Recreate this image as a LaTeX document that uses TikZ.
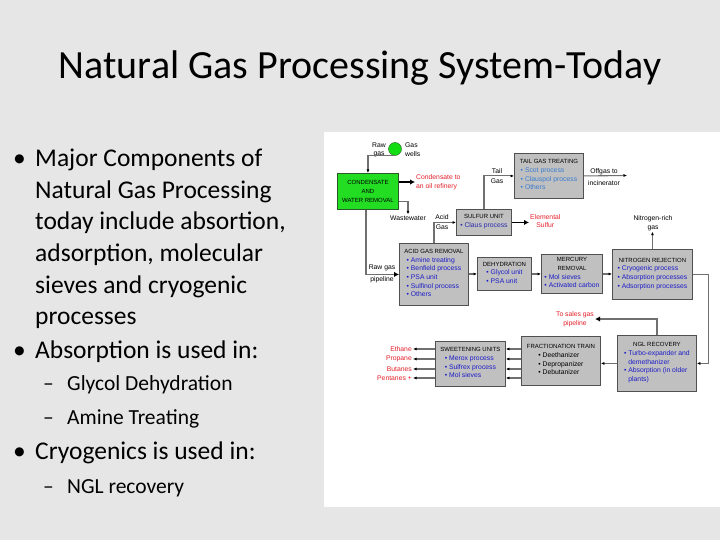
\documentclass[tikz,border=0pt]{standalone}
\usepackage{fontspec}
\setmainfont{Carlito}
\newfontfamily\chartfont{Liberation Sans}
\usetikzlibrary{arrows.meta,positioning}

\definecolor{slidebg}{HTML}{E6E6E6}
\definecolor{boxfill}{HTML}{C0C0C0}
\definecolor{boxline}{HTML}{505050}
\definecolor{flowgray}{HTML}{707070}
\definecolor{condgreen}{HTML}{22DD22}
\definecolor{conddark}{HTML}{2A5A2A}
\definecolor{wellgreen}{HTML}{11DD11}
\definecolor{itemblue}{HTML}{1C1CC8}
\definecolor{clausblue}{HTML}{2A2AB0}
\definecolor{scotblue}{HTML}{3A7CD0}
\definecolor{redtxt}{HTML}{E4202A}

\newcommand{\unittitle}[1]{{\fontsize{6}{8.7}\selectfont #1}}
\newcommand{\unititems}[2][itemblue]{\textcolor{#1}{\begin{tabular}[t]{@{}l@{}}#2\end{tabular}}}

\tikzset{
  unit/.style={draw=boxline, fill=boxfill, line width=0.9pt, anchor=north west,
    inner sep=1pt, align=center, font=\chartfont\fontsize{6.8}{8.7}\selectfont},
  flow/.style={draw=flowgray, line width=1.1pt, -{Latex[color=black,length=3.5pt,width=3pt]}},
  feed/.style={draw=flowgray, line width=1.1pt, -{Latex[color=black,length=5pt,width=5.5pt]}},
  outflow/.style={draw=black, line width=1.6pt, -{Latex[length=5pt,width=5.5pt]}},
  lbl/.style={font=\chartfont\fontsize{6.8}{8.7}\selectfont, inner sep=1pt, align=center},
  product/.style={lbl, text=redtxt},
  slidetext/.style={anchor=base west, align=left, inner sep=0pt, font=\fontsize{25.5}{31.6}\selectfont},
  subtext/.style={anchor=base west, inner sep=0pt, font=\fontsize{21.5}{26}\selectfont},
}

\begin{document}
\begin{tikzpicture}[x=1pt,y=-1pt]
  \useasboundingbox (0,0) rectangle (720,540);
  \fill[slidebg] (0,0) rectangle (720,540);
  \fill[white] (324,132) rectangle (720,507);

  % slide text (base of a multi-line node is its last line)
  \node[anchor=base, inner sep=0pt, font=\fontsize{40}{48}\selectfont] (title) at (360,79) {Natural Gas Processing System-Today};
  \node[slidetext] (dot1) at (13,166.7) {•};
  \node[slidetext] (item1) at (35,324.7) {Major Components of\\Natural Gas Processing\\today include absortion,\\adsorption, molecular\\sieves and cryogenic\\processes};
  \node[slidetext] (dot2) at (13,358) {•};
  \node[slidetext] (item2) at (35,358) {Absorption is used in:};
  \node[subtext] (dash1) at (43,390.7) {–};
  \node[subtext] (sub1) at (67,390.7) {Glycol Dehydration};
  \node[subtext] (dash2) at (43,424) {–};
  \node[subtext] (sub2) at (67,424) {Amine Treating};
  \node[slidetext] (dot3) at (13,459) {•};
  \node[slidetext] (item3) at (35,459) {Cryogenics is used in:};
  \node[subtext] (dash3) at (43,493) {–};
  \node[subtext] (sub3) at (67,493) {NGL recovery};

  % process units
  \node[circle, draw=conddark, fill=wellgreen, minimum size=13pt, inner sep=0pt] (wells) at (395,149) {};
  \node[unit, fill=condgreen, draw=conddark, minimum width=61pt, minimum height=36pt] (cond) at (337,173) {\unittitle{CONDENSATE}\\\unittitle{AND}\\\unittitle{WATER REMOVAL}};
  \node[unit, minimum width=55pt, minimum height=26pt] (sulfur) at (456,209) {\unittitle{SULFUR UNIT}\\\unititems[clausblue]{• Claus process}};
  \node[unit, minimum width=69pt, minimum height=45pt] (tail) at (514,153) {\unittitle{TAIL GAS TREATING}\\\unititems[scotblue]{• Scot process\\• Clauspol process\\• Others}};
  \node[unit, minimum width=69pt, minimum height=62pt] (acid) at (399,243) {\unittitle{ACID GAS REMOVAL}\\\unititems{• Amine treating\\• Benfield process\\• PSA unit\\• Sulfinol process\\• Others}};
  \node[unit, minimum width=54pt, minimum height=33pt] (dehy) at (477,257) {\unittitle{DEHYDRATION}\\\unititems{• Glycol unit\\• PSA unit}};
  \node[unit, minimum width=61pt, minimum height=39pt] (merc) at (541,254) {\unittitle{MERCURY}\\\unittitle{REMOVAL}\\\unititems{• Mol sieves\\• Activated carbon}};
  \node[unit, minimum width=80pt, minimum height=50pt] (nitro) at (612,249) {\unittitle{NITROGEN REJECTION}\\\unititems{• Cryogenic process\\• Absorption processes\\• Adsorption processes}};
  \node[unit, minimum width=79pt, minimum height=56pt] (ngl) at (617,335) {\unittitle{NGL RECOVERY}\\\unititems{• Turbo-expander and\\\hphantom{• }demethanizer\\• Absorption (in older\\\hphantom{• }plants)}};
  \node[unit, minimum width=79pt, minimum height=49pt] (frac) at (521,336) {\unittitle{FRACTIONATION TRAIN}\\\unititems[black]{• Deethanizer\\• Depropanizer\\• Debutanizer}};
  \node[unit, minimum width=70pt, minimum height=45pt] (sweet) at (435,341) {\unittitle{SWEETENING UNITS}\\\unititems{• Merox process\\• Sulfrex process\\• Mol sieves}};

  % stream labels
  \node[lbl] (rawgas) at (379,150) {Raw\\gas};
  \node[lbl, anchor=west, align=left] (wellname) at (404,150) {Gas\\wells};
  \node[product, anchor=west, align=left] (refinery) at (415,182) {Condensate to\\an oil refinery};
  \node[lbl] (waste) at (408,218) {Wastewater};
  \node[lbl] (pipename) at (382,274) {Raw gas\\[3.5pt]pipeline};
  \node[lbl] (acidgas) at (442,222) {Acid\\[1.3pt]Gas};
  \node[lbl] (tailgas) at (497,176) {Tail\\[2pt]Gas};
  \node[lbl] (offgas) at (604,177) {Offgas to\\[3pt]incinerator};
  \coordinate (incin) at (627,175.5);
  \node[product, anchor=west] (elemsulf) at (529,221) {Elemental\\Sulfur};
  \node[lbl] (n2gas) at (653,223) {Nitrogen-rich\\gas};
  \node[product] (sales) at (575,319) {To sales gas\\pipeline};

  % streams
  \draw[flow] (wells.south) -| (cond.north);
  \draw[outflow] (cond.east |- refinery.west) -- (refinery.west);
  \draw[flow] ([yshift=-10pt]cond.east) -| (waste.north);
  \draw[feed] ([xshift=-2pt]cond.south) |- (acid.west);
  \draw[flow] (acid.north) |- (sulfur.west);
  \draw[flow] (sulfur.north) |- (tail.west);
  \draw[flow] (tail.east) -- (incin);
  \draw[outflow] (sulfur.east) -- (sulfur.east -| elemsulf.west);
  \draw[flow] (acid.east |- dehy.west) -- (dehy.west);
  \draw[flow] (dehy.east) -- (dehy.east -| merc.west);
  \draw[flow] (merc.east) -- (merc.east -| nitro.west);
  \draw[flow] (nitro.north) -- (nitro.north |- n2gas.south);
  \draw[flow] (nitro.east) -- ++(16,0) |- (ngl.east);
  \draw[feed] (ngl.north) |- (sales.east);
  \draw[flow] (ngl.west) -- (ngl.west -| frac.east);
  \foreach \gas/\txt/\y in {ethane/Ethane/349, propane/Propane/359, butanes/Butanes/369, pentanes/Pentanes +/378} {
    \node[product, anchor=east] (\gas) at (413,\y) {\txt};
    \draw[flow] (sweet.west |- \gas) -- (\gas);
    \draw[flow] (frac.west |- \gas) -- (sweet.east |- \gas);
  }
\end{tikzpicture}
\end{document}
